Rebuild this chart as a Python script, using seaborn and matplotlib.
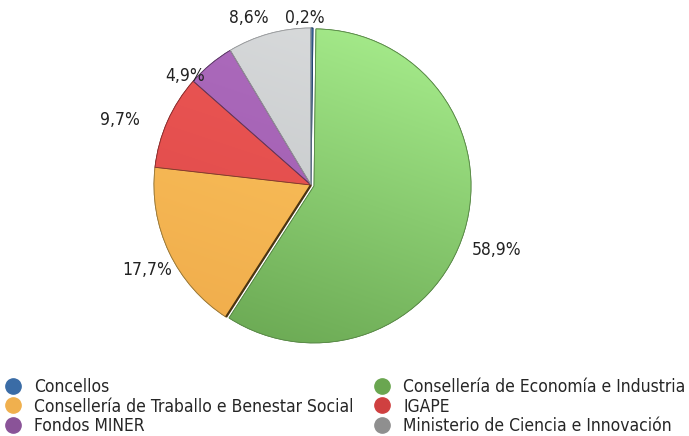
import numpy as np
import matplotlib
matplotlib.use("Agg")
import matplotlib.pyplot as plt
import matplotlib.patches as mpatches
import seaborn as sns
from matplotlib.lines import Line2D
from matplotlib.colors import to_rgb

categories = ["Concellos", "Consellería de Economía e Industria",
              "Consellería de Traballo e Benestar Social", "IGAPE",
              "Fondos MINER", "Ministerio de Ciencia e Innovación"]
values = [0.2, 58.9, 17.7, 9.7, 4.9, 8.6]

# style
legend_colors = ["#3a6ca6", "#6aa650", "#f0b04e", "#cf4040", "#8a5398", "#8f8f8f"]
light_colors = ["#4f86c6", "#adf492", "#fdc860", "#ef5a58", "#b06fc0", "#dcdedf"]
dark_colors = ["#2f5f96", "#63a04c", "#efaa4a", "#dc4746", "#9c58ac", "#bcbfc1"]
edge_colors = ["#1f3f66", "#5a8a48", "#9a7a3a", "#8a2e2e", "#5c3a66", "#9a9c9e"]
explode = [0, 0.02, 0, 0, 0, 0]
label_r = [1.065, 1.106, 1.037, 1.165, 0.968, 1.099]
label_dang = [2.4, -5.3, 6.0, 3.2, 4.4, -1.1]
label_ha = ["center", "left", "right", "right", "right", "right"]

sns.set_theme(style="white")
plt.rcParams["font.family"] = ["DejaVu Sans"]
plt.rcParams["font.stretch"] = "condensed"

fig = plt.figure(figsize=(6.89, 4.36), dpi=100)
R = 157
L = 1.4
size_px = 2 * L * R
cx, cy = 311, 436 - 185
ax = fig.add_axes([(cx - size_px / 2) / 689, (cy - size_px / 2) / 436,
                   size_px / 689, size_px / 436])

labels = [f"{v:.1f}%".replace(".", ",") for v in values]
wedges, texts = ax.pie(values, startangle=90, counterclock=False,
                       colors=legend_colors, explode=explode,
                       labels=labels, labeldistance=1.1,
                       textprops=dict(fontsize=12.5, color="#222222"),
                       wedgeprops=dict(linewidth=0.6))
for w, ec in zip(wedges, edge_colors):
    w.set_edgecolor(ec)

# reposition value labels around each slice's mid angle
for w, t, rr, da, ha in zip(wedges, texts, label_r, label_dang, label_ha):
    mid = np.deg2rad((w.theta1 + w.theta2) / 2 + da)
    t.set_position((rr * np.cos(mid), rr * np.sin(mid)))
    t.set_ha(ha)
    t.set_va("center")

# gradient fill
n = 256
tt = np.linspace(0, 1, n)[:, None]
xs = np.linspace(0, 1, n)[None, :]
for w, lc, dc in zip(wedges, light_colors, dark_colors):
    a = np.array(to_rgb(lc)); b = np.array(to_rgb(dc))
    mix = np.clip(0.75 * tt + 0.25 * (1 - xs), 0, 1)
    img = a[None, None, :] * (1 - mix[..., None]) + b[None, None, :] * mix[..., None]
    im = ax.imshow(img, extent=(-1.1, 1.1, -1.1, 1.1), origin="upper",
                   zorder=w.get_zorder() + 0.1, interpolation="bilinear")
    im.set_clip_path(w)
    w2 = mpatches.Wedge(w.center, w.r, w.theta1, w.theta2, fill=False,
                        edgecolor=w.get_edgecolor(), linewidth=0.6,
                        zorder=w.get_zorder() + 0.2)
    ax.add_patch(w2)

# dark shadow edge of the orange slice next to the green one
wo = wedges[2]
th = np.deg2rad(wo.theta2)
ax.plot([wo.center[0], wo.center[0] + wo.r * np.cos(th)],
        [wo.center[1], wo.center[1] + wo.r * np.sin(th)],
        color="#4a3412", linewidth=1.6, zorder=5, solid_capstyle="butt")

ax.set_xlim(-L, L)
ax.set_ylim(-L, L)
ax.set_aspect("equal")
ax.axis("off")

order = [0, 2, 4, 1, 3, 5]
handles = [Line2D([0], [0], marker="o", linestyle="", markersize=11,
                  markerfacecolor=legend_colors[i], markeredgecolor=legend_colors[i])
           for i in order]
fig.legend(handles, [categories[i] for i in order], ncol=2, loc="lower left",
           bbox_to_anchor=(-0.009, -0.021), frameon=False, fontsize=12.5,
           handletextpad=0.74, columnspacing=1.09, labelspacing=0.07,
           handlelength=1.0, borderaxespad=0.2)

fig.savefig("out.png", dpi=100)
